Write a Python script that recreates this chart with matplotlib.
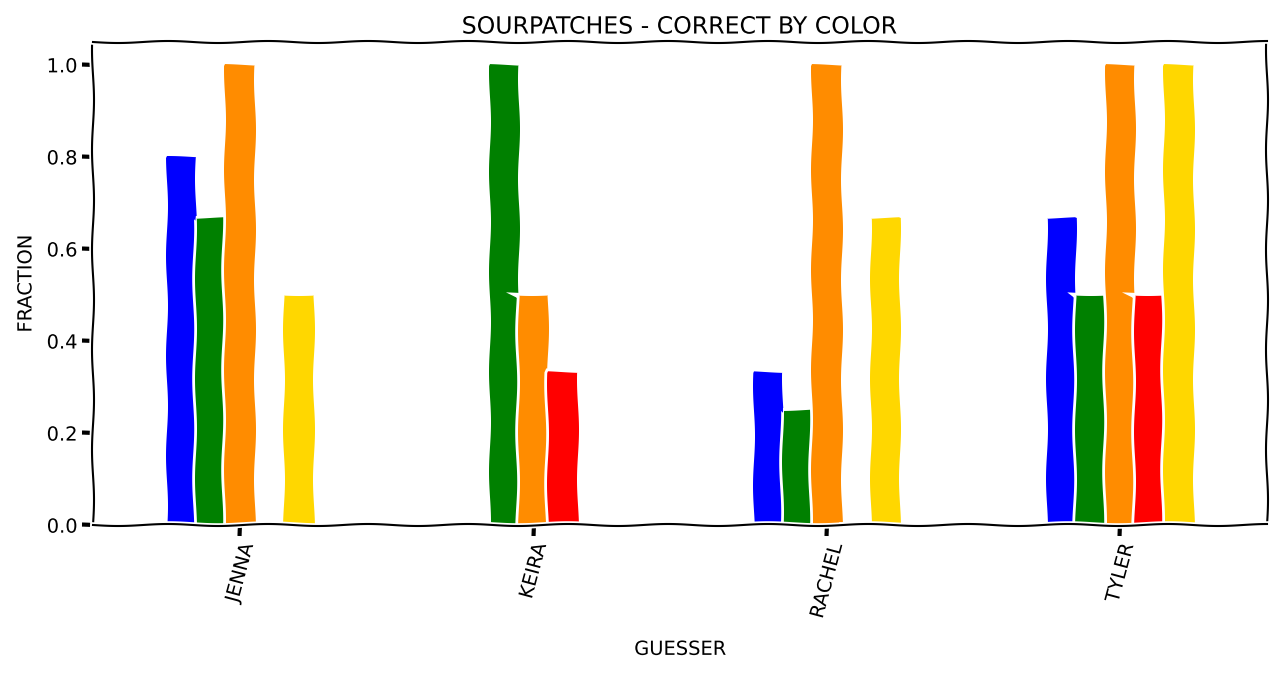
import numpy as np
import pandas as pd
import matplotlib
matplotlib.use("Agg")
import matplotlib.pyplot as plt

guessers = ["JENNA", "KEIRA", "RACHEL", "TYLER"]
blue = [0.8, np.nan, 0.333, 0.667]
green = [0.667, 1.0, 0.25, 0.5]
orange = [1.0, 0.5, 1.0, 1.0]
red = [np.nan, 0.333, np.nan, 0.5]
yellow = [0.5, np.nan, 0.667, 1.0]
bar_colors = ["blue", "green", "darkorange", "red", "gold"]

df = pd.DataFrame({"BLUE": blue, "GREEN": green, "ORANGE": orange,
                   "RED": red, "YELLOW": yellow}, index=guessers)
df.index.name = "GUESSER"

with plt.xkcd(scale=1, length=100, randomness=1):
    plt.rcParams['font.family'] = ['DejaVu Sans']
    fig, ax = plt.subplots(figsize=(12.8, 6.75), dpi=100)
    df.plot.bar(ax=ax, color=bar_colors, legend=False, rot=75)
    ax.set_title("SOURPATCHES - CORRECT BY COLOR", fontsize=17)
    ax.set_ylabel("FRACTION", fontsize=14, labelpad=8)
    ax.set_xlabel("GUESSER", fontsize=14, labelpad=14)
    ax.set_yticks([0.0, 0.2, 0.4, 0.6, 0.8, 1.0])
    ax.tick_params(labelsize=14)
    fig.subplots_adjust(left=0.073, right=0.99, top=0.938, bottom=0.222)
    fig.savefig("out.png", dpi=100)
